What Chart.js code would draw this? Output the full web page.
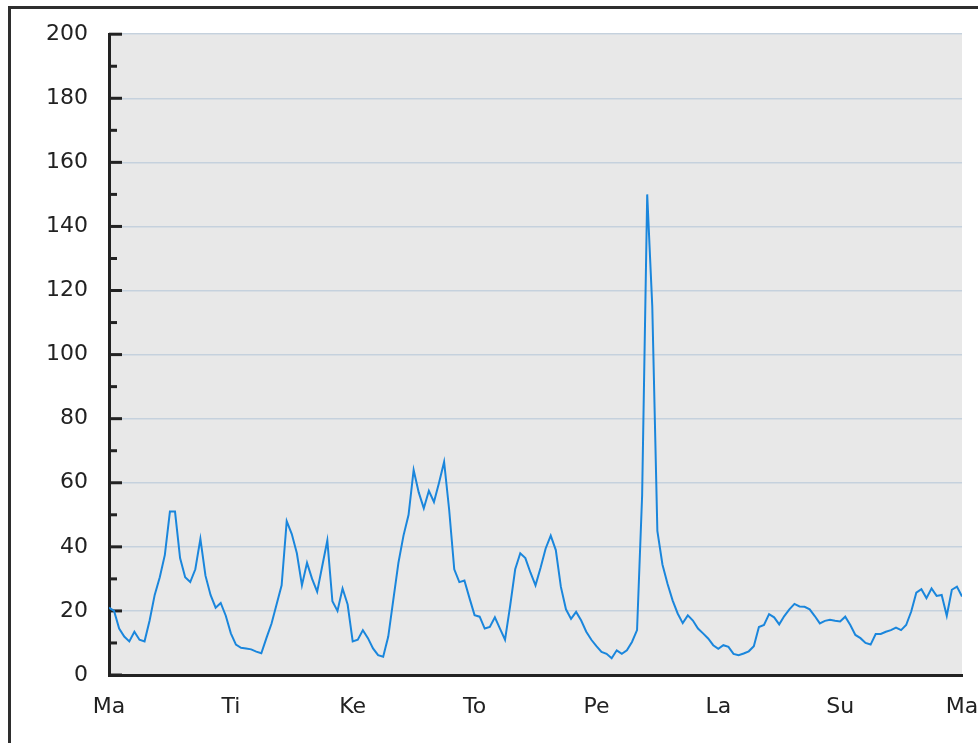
<!DOCTYPE html>
<html>
<head>
<meta charset="utf-8">
<script src="https://cdn.jsdelivr.net/npm/chart.js@4.4.1/dist/chart.umd.min.js"></script>
<style>
  html, body { margin: 0; padding: 0; background: #fff; overflow: hidden; }
  /* kehys: only the left and top edges are visible in the picture */
  #kehys { position: absolute; left: 8px; top: 6px; width: 1200px; height: 1000px; border: 3px solid #2e2e2e; box-sizing: border-box; }
  #kaavio { position: absolute; left: 0; top: 0; }
</style>
</head>
<body>
<div id="kehys"></div>
<canvas id="kaavio" width="978" height="743"></canvas>
<script>
// weekday labels (Finnish), one per 24 h
const paivat = ['Ma', 'Ti', 'Ke', 'To', 'Pe', 'La', 'Su', 'Ma'];

// hourly values, one array per day
const maanantai = [21, 20, 14.5, 12, 10.5, 13.5, 11, 10.5, 17, 25, 30.5, 37.5, 51, 51, 36.5, 30.5, 29, 33, 42.5, 31, 25, 21, 22.5, 18.5];
const tiistai   = [13, 9.5, 8.5, 8.3, 8, 7.3, 6.8, 11.5, 16, 22, 28, 48, 44, 38, 28, 35, 30, 26, 34, 42, 23, 20, 27, 22];
const keskiviikko = [10.5, 11, 14, 11.5, 8.3, 6.2, 5.7, 12, 23.5, 35, 43.5, 50, 64, 57, 52, 57.5, 54, 60, 66.5, 51.5, 33, 29, 29.5, 24];
const torstai   = [18.7, 18.2, 14.5, 15, 18, 14.5, 11, 21.5, 33, 38, 36.5, 32, 28, 33.5, 39.5, 43.5, 39, 27.5, 20.5, 17.5, 19.7, 17, 13.5, 11];
const perjantai = [9, 7.2, 6.6, 5.2, 7.7, 6.6, 7.7, 10.3, 14, 56, 150, 115, 45, 34.5, 28.5, 23.3, 19.2, 16.2, 18.6, 17, 14.5, 13, 11.4, 9.3];
const lauantai  = [8.2, 9.3, 8.8, 6.6, 6.2, 6.7, 7.4, 9, 15, 15.6, 19, 18, 15.8, 18.4, 20.5, 22.2, 21.4, 21.3, 20.5, 18.4, 16.1, 16.9, 17.2, 16.9];
const sunnuntai = [16.7, 18.2, 15.6, 12.5, 11.5, 10, 9.5, 12.8, 12.8, 13.5, 14, 14.8, 14, 15.6, 19.8, 25.7, 26.8, 24, 27, 24.7, 25, 18.5, 26.6, 27.6];
const loppu = [24.5];

const arvot = [].concat(maanantai, tiistai, keskiviikko, torstai, perjantai, lauantai, sunnuntai, loppu);
const pisteet = arvot.map((v, i) => ({ x: i, y: v }));

const fontti = { family: 'DejaVu Sans', size: 22 };

// grey plot background + small black ticks on the inner side of the y axis
const taustaJaTikit = {
    id: 'taustaJaTikit',
    beforeDraw(chart) {
        const a = chart.chartArea, ctx = chart.ctx;
        ctx.save();
        ctx.fillStyle = '#e8e8e8';
        ctx.fillRect(a.left, a.top, a.right - a.left, a.bottom - a.top);
        ctx.restore();
    },
    beforeDatasetsDraw(chart) {
        const a = chart.chartArea, ctx = chart.ctx, y = chart.scales.y;
        ctx.save();
        ctx.strokeStyle = '#222';
        ctx.lineWidth = 3;
        for (let v = 0; v <= 200; v += 10) {
            const py = y.getPixelForValue(v);
            const pituus = v % 20 === 0 ? 13 : 8;
            ctx.beginPath();
            ctx.moveTo(a.left, py);
            ctx.lineTo(a.left + pituus, py);
            ctx.stroke();
        }
        ctx.restore();
    }
};

new Chart(document.getElementById('kaavio').getContext('2d'), {
    type: 'line',
    data: {
        datasets: [{
            data: pisteet,
            borderColor: '#1a86dc',
            borderWidth: 2,
            pointRadius: 0,
            tension: 0,
            fill: false
        }]
    },
    options: {
        responsive: false,
        animation: false,
        layout: { padding: { left: 0, top: 33, right: 16, bottom: 18 } },
        plugins: { legend: { display: false }, tooltip: { enabled: false } },
        scales: {
            x: {
                type: 'linear', min: 0, max: 168,
                grid: { display: false, drawTicks: false },
                border: { color: '#222', width: 3 },
                ticks: {
                    stepSize: 24, autoSkip: false, maxRotation: 0, padding: 19,
                    color: '#222', font: fontti,
                    callback: v => paivat[v / 24]
                },
                afterFit(s) { s.height = 50; s.paddingLeft = 0; s.paddingRight = 0; }
            },
            y: {
                min: 0, max: 200,
                grid: { color: '#c5d1dd', lineWidth: 1.5, drawTicks: false },
                border: { color: '#222', width: 3 },
                ticks: { stepSize: 20, padding: 21, color: '#222', font: fontti },
                afterFit(s) { s.width = 109; }
            }
        }
    },
    plugins: [taustaJaTikit]
});
</script>
</body>
</html>
